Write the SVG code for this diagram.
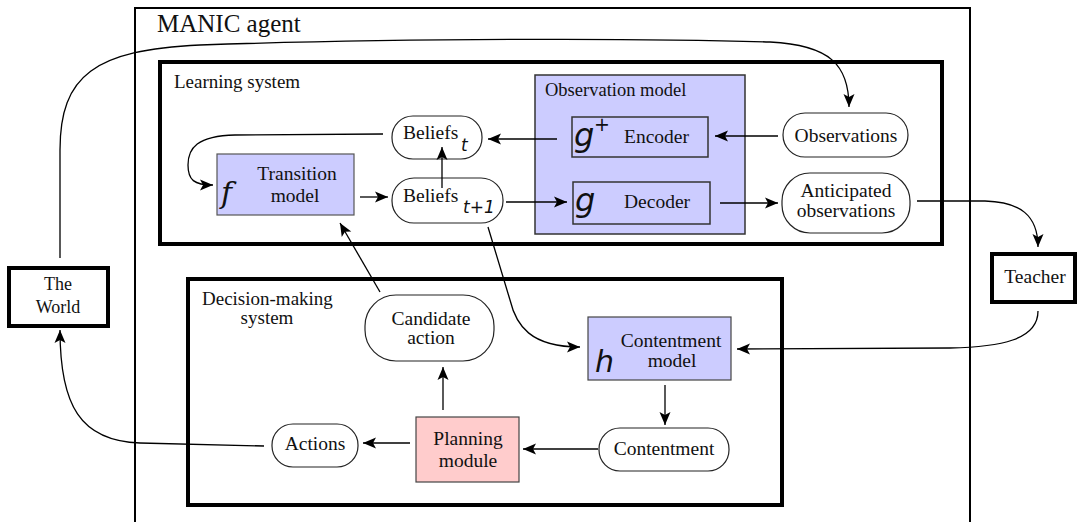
<svg xmlns="http://www.w3.org/2000/svg" width="1080" height="522" viewBox="0 0 1080 522">
<style>
text{font-family:"Liberation Serif","Times New Roman",serif;fill:#111;font-size:19.5px}
.title{font-size:25px}
.sys{font-size:19px}
.m{text-anchor:middle}
.math{font-family:"DejaVu Sans",sans-serif;font-style:italic}
.mathf{font-family:"DejaVu Serif","Liberation Serif",serif;font-style:italic}
.sub{font-family:"DejaVu Sans",sans-serif;font-style:italic;font-size:17px}
.thick{fill:#fff;stroke:#000;stroke-width:4}
.pill{fill:#fff;stroke:#222;stroke-width:1.2}
.blue{fill:#ccccff;stroke:#333;stroke-width:1.5}
.inner{fill:#ccccff;stroke:#333;stroke-width:1.5}
.pink{fill:#ffcccc;stroke:#444;stroke-width:1.2}
.c{fill:none;stroke:#000;stroke-width:1.3;marker-end:url(#ah)}
</style>
<defs>
<marker id="ah" viewBox="-14 -7 15 14" refX="0" refY="0" markerWidth="15" markerHeight="14" markerUnits="userSpaceOnUse" orient="auto">
<path d="M0,0 L-13,-5.5 L-10,0 L-13,5.5 Z" fill="#000"/>
</marker>
</defs>
<rect width="1080" height="522" fill="#fff"/>

<g id="manic">
<rect x="135" y="8" width="835" height="540" fill="none" stroke="#000" stroke-width="2"/>
<text class="title" x="157" y="32">MANIC agent</text>
</g>

<g id="learning">
<rect class="thick" x="160" y="62" width="782" height="182"/>
<text class="sys" x="174" y="88">Learning system</text>
</g>

<g id="decision">
<rect class="thick" x="188" y="279" width="594" height="226"/>
<text class="sys" x="202" y="305">Decision-making</text>
<text class="sys m" x="267" y="324">system</text>
</g>

<g id="world">
<rect class="thick" x="9" y="268" width="99" height="58"/>
<text class="m" x="58" y="290" style="font-size:18px">The</text>
<text class="m" x="58" y="313" style="font-size:18px">World</text>
</g>

<g id="teacher">
<rect class="thick" x="992" y="254" width="83" height="48"/>
<text class="m" x="1035" y="283">Teacher</text>
</g>

<g id="observation-model">
<rect class="blue" x="535" y="75" width="210" height="159"/>
<text x="545" y="96" style="font-size:18.5px">Observation model</text>
</g>

<g id="encoder">
<rect class="inner" x="572" y="117" width="136" height="40"/>
<text class="math" x="574" y="146" style="font-size:32px">g</text>
<text x="594" y="131" style="font-family:'DejaVu Sans',sans-serif;font-size:19px">+</text>
<text x="624" y="143">Encoder</text>
</g>

<g id="decoder">
<rect class="inner" x="573" y="182" width="137" height="42"/>
<text class="math" x="575" y="211" style="font-size:32px">g</text>
<text x="624" y="208">Decoder</text>
</g>

<g id="observations">
<rect class="pill" x="783" y="113" width="125" height="44" rx="22"/>
<text class="m" x="846" y="142">Observations</text>
</g>

<g id="anticipated">
<rect class="pill" x="782" y="173" width="128" height="60" rx="28"/>
<text class="m" x="846" y="197">Anticipated</text>
<text class="m" x="846" y="217">observations</text>
</g>

<g id="beliefs-t">
<rect class="pill" x="392" y="116" width="90" height="43" rx="21"/>
<text x="403" y="139">Beliefs</text>
<text class="sub" x="461" y="151">t</text>
</g>

<g id="beliefs-t1">
<rect class="pill" x="392" y="178" width="111" height="45" rx="22"/>
<text x="403" y="202">Beliefs</text>
<text class="sub" x="463" y="213">t+1</text>
</g>

<g id="transition">
<rect class="blue" x="217" y="154" width="137" height="61" style="stroke-width:1.2;stroke:#555"/>
<text class="mathf" x="221" y="203" style="font-size:30px">f</text>
<text class="m" x="297" y="180">Transition</text>
<text class="m" x="295" y="202">model</text>
</g>

<g id="candidate">
<rect class="pill" x="365" y="295" width="129" height="66" rx="31"/>
<text class="m" x="431" y="325">Candidate</text>
<text class="m" x="431" y="344">action</text>
</g>

<g id="contentment-model">
<rect class="blue" x="588" y="317" width="143" height="63" style="stroke-width:1.2;stroke:#444"/>
<text class="math" x="595" y="372" style="font-size:30px">h</text>
<text class="m" x="671" y="347">Contentment</text>
<text class="m" x="672" y="367">model</text>
</g>

<g id="contentment">
<rect class="pill" x="599" y="428" width="130" height="43" rx="21"/>
<text class="m" x="664" y="455">Contentment</text>
</g>

<g id="planning">
<rect class="pink" x="416" y="417" width="103" height="65"/>
<text class="m" x="468" y="445">Planning</text>
<text class="m" x="468" y="467">module</text>
</g>

<g id="actions">
<rect class="pill" x="272" y="424" width="86" height="43" rx="21"/>
<text class="m" x="315" y="450">Actions</text>
</g>

<g id="connectors">
<path class="c" d="M383,134 L235,135 C197,136 188,148 188,165 C188,180 194,185 213,185"/>
<path class="c" d="M360,197 L388,197"/>
<path class="c" d="M442,188 L442,147"/>
<path class="c" d="M557,139 L488,139"/>
<path class="c" d="M506,202 L567,202"/>
<path class="c" d="M778,136 L715,136"/>
<path class="c" d="M720,203 L778,203"/>
<path class="c" d="M917,201 L985,201 C1020,202 1038,215 1038,247"/>
<path class="c" d="M1038,311 C1038,340 1000,347 950,348 L737,349"/>
<path class="c" d="M488,227 L510,300 C516,325 530,347 580,347"/>
<path class="c" d="M380,292 L340,223"/>
<path class="c" d="M443,410 L443,367"/>
<path class="c" d="M665,385 L665,425"/>
<path class="c" d="M598,449 L523,449"/>
<path class="c" d="M410,443 L363,443"/>
<path class="c" d="M264,446 L140,443 C80,441 60,405 60,330"/>
<path class="c" d="M60,258 L60,150 C60,75 95,50 200,45 C400,38 650,38 770,42 C830,45 849,65 849,107"/>
</g>
</svg>
